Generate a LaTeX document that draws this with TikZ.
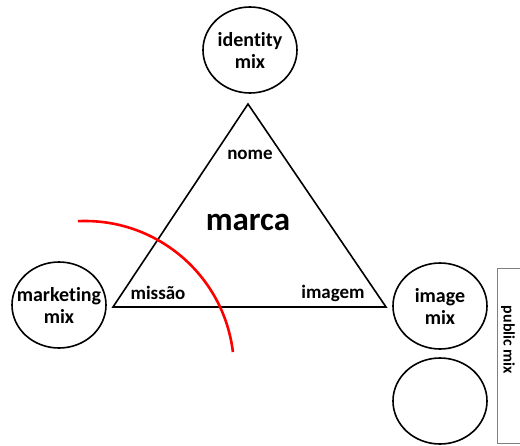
\documentclass[tikz,border=0pt]{standalone}
\usepackage{fontspec}
\setmainfont[Ligatures=NoCommon]{Carlito}
\usetikzlibrary{shapes.geometric}
\begin{document}
\begin{tikzpicture}[x=1pt,y=-1pt,
  mixcirc/.style={draw=black,line width=1.6pt,ellipse,minimum width=94pt,minimum height=86pt,inner sep=0pt},
  mixtext/.style={inner sep=0pt,align=center,font=\bfseries\fontsize{20}{22}\selectfont},
  lbl/.style={font=\bfseries\fontsize{19}{22}\selectfont,inner sep=0pt},
  tri/.style={draw=black,line width=1.6pt,line join=miter}]
\useasboundingbox (0,0) rectangle (520,445);
\node[mixcirc] (identity) at (250,50) {};
\node[mixtext] (identitytxt) at (identity) {identity\\mix};
\node[mixcirc] (marketing) at (59,305) {};
\node[mixtext] (marketingtxt) at (marketing) {marketing\\mix};
\node[mixcirc] (image) at (440,306) {};
\node[mixtext] (imagetxt) at (image) {image\\mix};
\node[mixcirc] (empty) at (440,401) {};
\coordinate (apex) at (248,104);
\coordinate (bl) at (113,307);
\coordinate (br) at (386,307);
\draw[tri] (apex) -- (bl) -- (br) -- cycle;
\node[lbl] (nome) at (250,155) {nome};
\node[font=\bfseries\fontsize{33}{38}\selectfont,inner sep=0pt] (marca) at (248,222) {marca};
\node[lbl] (missao) at (158,293) {missão};
\node[lbl] (imagem) at (333,293) {imagem};
\draw[draw=gray,line width=1pt] (497,443) -- (497,268) -- (522,268);
\draw[draw=gray,line width=1pt] (497,443) -- (522,443);
\node[rotate=-90,font=\bfseries\fontsize{16}{18}\selectfont,inner sep=0pt] (public) at (508,340) {public mix};
\coordinate (rc) at (85,370);
\draw[red,line width=2.6pt] (rc) ++(-92.7:149) arc[start angle=-92.7,end angle=-6.9,radius=149];
\end{tikzpicture}
\end{document}
